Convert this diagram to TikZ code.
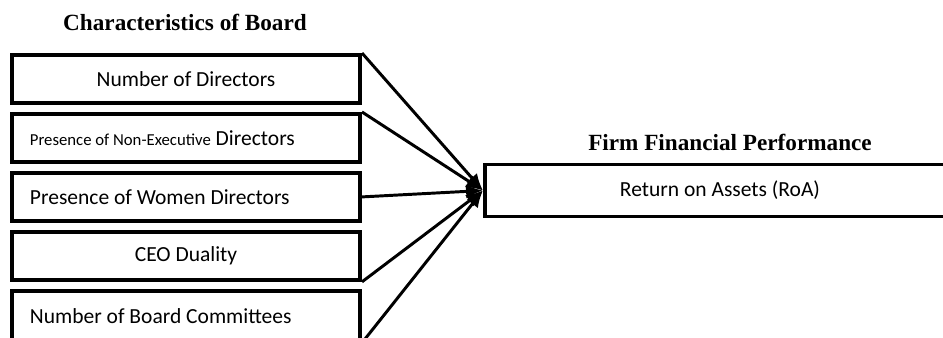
\documentclass[tikz,border=0pt]{standalone}
\usepackage{fontspec}
\setmainfont{Liberation Serif}
\setsansfont{Carlito}
\usepackage{tikz}
\usetikzlibrary{arrows.meta,positioning}

\begin{document}
\begin{tikzpicture}[>={Latex[length=12pt,width=10pt]}, x=0.025cm, y=-0.025cm]
  \tikzstyle{factor} = [draw, line width=2.8pt, fill=white, rectangle, minimum height=1.2cm, minimum width=8.7cm, inner xsep=0.45cm, font={\sffamily\fontsize{15.3}{18}\selectfont}]
  \tikzstyle{leftText} = [text width=7.8cm, align=flush left]
  \tikzstyle{heading} = [font={\bfseries\fontsize{16.5}{20}\selectfont}]

  \tikzstyle{factorEdgePortion} = [black,line width=2.1pt];
  \tikzstyle{factorEdge} = [factorEdgePortion,->];

  \useasboundingbox (0,0) rectangle (943,337);
  \clip (0,0) rectangle (943,337);

  \node[heading] (boardTitle) at (185,22) {Characteristics of Board};
  \node[factor]           (A) at (186,79)          {Number of Directors};
  \node[factor,leftText]  (B) [below=0.175cm of A] {{\fontsize{11.9}{18}\selectfont Presence of Non-Executive} Directors};
  \node[factor,leftText]  (C) [below=0.175cm of B] {Presence of Women Directors};
  \node[factor]           (D) [below=0.175cm of C] {CEO Duality};
  \node[factor,leftText, minimum height=1.25cm] (E) [below=0.175cm of D] {Number of Board Committees};

  \node[heading] (firmTitle) at (730,142) {Firm Financial Performance};
  \node[factor, minimum width=11.75cm, minimum height=1.3cm] (R) at (720,190.5) {Return on Assets (RoA)};

  \path (A.north east) edge[factorEdge] (R.west)
        (B.north east) edge[factorEdge] (R.west)
        (C.east)       edge[factorEdge] (R.west)
        (D.south east) edge[factorEdge] (R.west)
        (E.south east) edge[factorEdge] (R.west);
\end{tikzpicture}
\end{document}
